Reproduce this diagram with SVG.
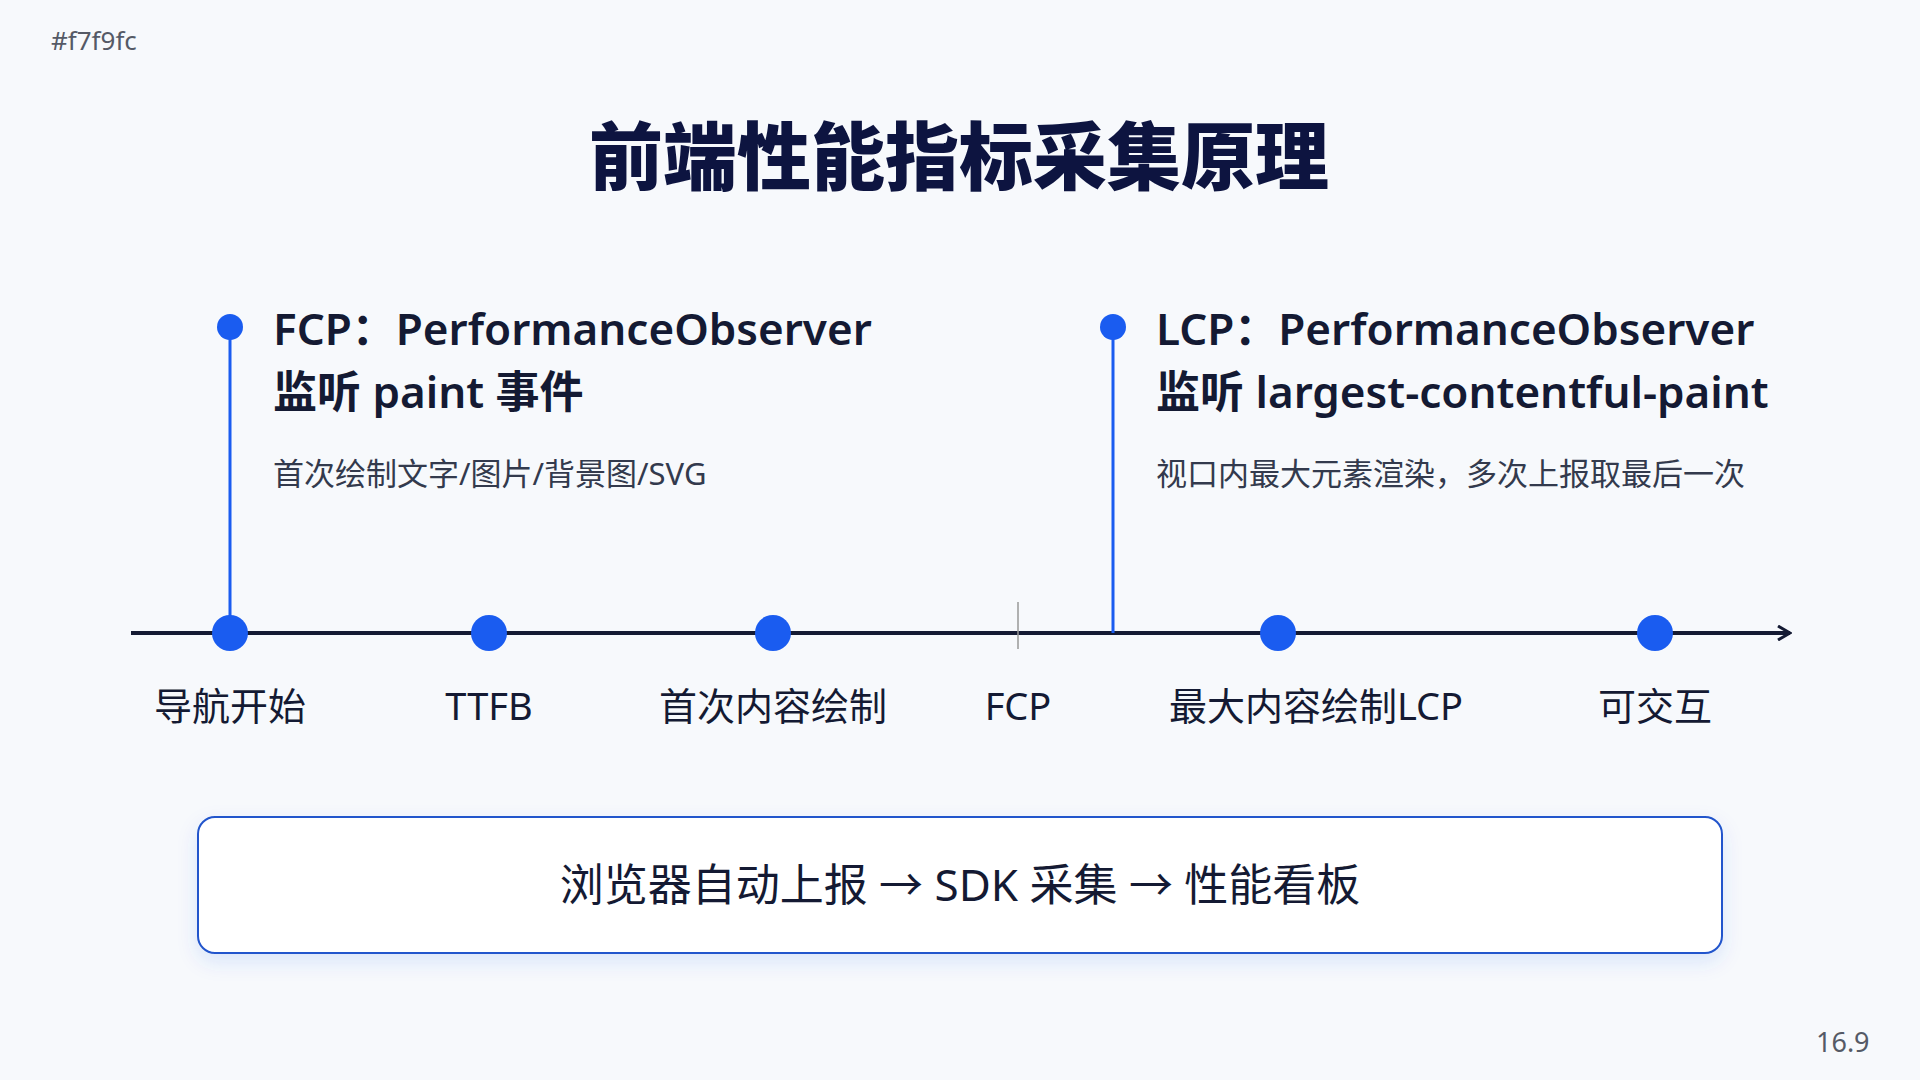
<svg xmlns="http://www.w3.org/2000/svg" width="1920" height="1080" viewBox="0 0 1920 1080">
<defs>
<style>
text{font-family:"Noto Sans","Noto Sans CJK SC",sans-serif;fill:#141a33}
.lbl{font-size:38px;text-anchor:middle}
.head{font-size:44px;font-weight:600}
.sub{font-size:31px;fill:#333a4d}
.dot{fill:#1a5cf0}
</style>
<marker id="arr" viewBox="0 0 16 16" refX="14" refY="8" markerWidth="16" markerHeight="16" markerUnits="userSpaceOnUse" orient="auto"><path d="M2 1 L14 8 L2 15" fill="none" stroke="#141a33" stroke-width="3"/></marker>
<filter id="sh" x="-5%" y="-20%" width="110%" height="150%"><feDropShadow dx="0" dy="8" stdDeviation="10" flood-color="#1a5cf0" flood-opacity="0.12"/></filter>
</defs>
<rect width="1920" height="1080" fill="#f7f9fc"/>
<text x="51" y="50" font-size="26" style="fill:#555a66">#f7f9fc</text>
<text x="1816" y="1052" font-size="27" style="fill:#555a66">16.9</text>
<text x="959" y="184" text-anchor="middle" font-size="74" font-weight="900" style="fill:#0d1440">前端性能指标采集原理</text>
<g id="connectors">
<line x1="131" y1="633" x2="1790" y2="633" stroke="#141a33" stroke-width="4" marker-end="url(#arr)"/>
<line x1="1018" y1="602" x2="1018" y2="649" stroke="#999" stroke-width="1.5"/>
<line x1="230" y1="327" x2="230" y2="633" stroke="#1a5cf0" stroke-width="3"/>
<line x1="1113" y1="327" x2="1113" y2="633" stroke="#1a5cf0" stroke-width="3"/>
</g>
<g id="n-nav"><circle class="dot" cx="230" cy="633" r="18"/><text class="lbl" x="230" y="720">导航开始</text></g>
<g id="n-ttfb"><circle class="dot" cx="489" cy="633" r="18"/><text class="lbl" x="489" y="720">TTFB</text></g>
<g id="n-fcp-dot"><circle class="dot" cx="773" cy="633" r="18"/><text class="lbl" x="773" y="720">首次内容绘制</text></g>
<g id="n-fcp"><text class="lbl" x="1018" y="720">FCP</text></g>
<g id="n-lcp-dot"><circle class="dot" cx="1278" cy="633" r="18"/><text class="lbl" x="1316" y="720">最大内容绘制LCP</text></g>
<g id="n-tti"><circle class="dot" cx="1655" cy="633" r="18"/><text class="lbl" x="1655" y="720">可交互</text></g>
<g id="c-fcp"><circle class="dot" cx="230" cy="327" r="13"/>
<text class="head" x="273" y="345">FCP：PerformanceObserver</text>
<text class="head" x="273" y="408">监听 paint 事件</text>
<text class="sub" x="273" y="485">首次绘制文字/图片/背景图/SVG</text></g>
<g id="c-lcp"><circle class="dot" cx="1113" cy="327" r="13"/>
<text class="head" x="1156" y="345">LCP：PerformanceObserver</text>
<text class="head" x="1156" y="408">监听 largest-contentful-paint</text>
<text class="sub" x="1156" y="485">视口内最大元素渲染，多次上报取最后一次</text></g>
<g id="flow"><rect x="198" y="817" width="1524" height="136" rx="17" fill="#fff" stroke="#2255cc" stroke-width="2" filter="url(#sh)"/>
<text x="960" y="901" text-anchor="middle" font-size="44">浏览器自动上报 → SDK 采集 → 性能看板</text></g>
</svg>
